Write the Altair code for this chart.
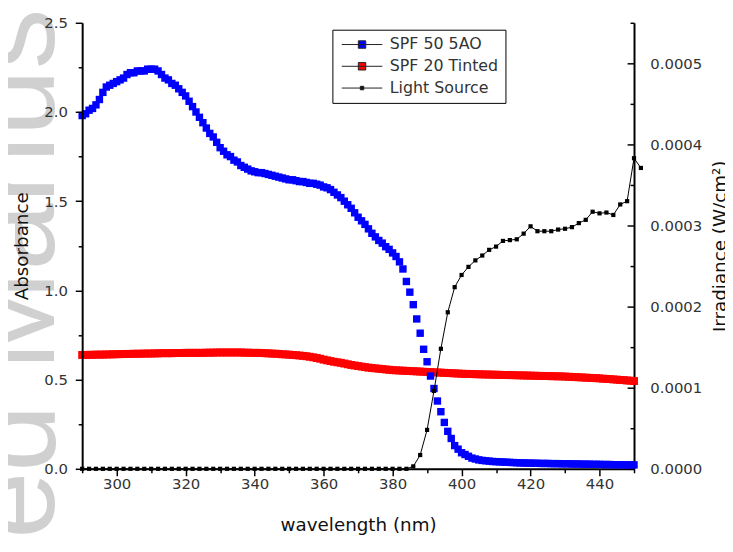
import altair as alt
import pandas as pd

# ---------------- data ----------------
wl_abs = list(range(290, 451))  # 1 nm steps

spf50_5ao = [
    1.98, 1.99, 2.01, 2.02, 2.04, 2.07, 2.11, 2.14, 2.15, 2.16,   # 290-299
    2.17, 2.18, 2.19, 2.21, 2.22, 2.22, 2.23, 2.23, 2.23, 2.24,   # 300-309
    2.24, 2.24, 2.23, 2.21, 2.19, 2.18, 2.16, 2.15, 2.13, 2.11,   # 310-319
    2.09, 2.06, 2.03, 2.00, 1.97, 1.94, 1.91, 1.88, 1.86, 1.83,   # 320-329
    1.80, 1.78, 1.76, 1.75, 1.73, 1.72, 1.70, 1.69, 1.68, 1.67,   # 330-339
    1.665, 1.66, 1.66, 1.655, 1.65, 1.645, 1.64, 1.635, 1.63, 1.625,  # 340-349
    1.62, 1.62, 1.615, 1.61, 1.61, 1.605, 1.60, 1.60, 1.595, 1.59,    # 350-359
    1.58, 1.575, 1.565, 1.55, 1.535, 1.52, 1.50, 1.48, 1.46, 1.435,   # 360-369
    1.41, 1.39, 1.37, 1.345, 1.32, 1.30, 1.28, 1.265, 1.245, 1.23,    # 370-379
    1.21, 1.19, 1.16, 1.12, 1.05, 0.99, 0.92, 0.84, 0.76, 0.67,       # 380-389
    0.60, 0.52, 0.45, 0.38, 0.32, 0.26, 0.21, 0.17, 0.13, 0.11,       # 390-399
    0.09, 0.08, 0.07, 0.06, 0.055, 0.05, 0.047, 0.045, 0.043, 0.041,  # 400-409
    0.040, 0.039, 0.038, 0.037, 0.036, 0.035, 0.034, 0.033, 0.033, 0.032,  # 410-419
    0.032, 0.031, 0.031, 0.030, 0.030, 0.030, 0.029, 0.029, 0.029, 0.028,  # 420-429
    0.028, 0.028, 0.027, 0.027, 0.027, 0.026, 0.026, 0.026, 0.025, 0.025,  # 430-439
    0.025, 0.024, 0.024, 0.024, 0.023, 0.023, 0.023, 0.022, 0.022, 0.022,  # 440-449
    0.022,                                                                   # 450
]

spf20_tinted = [
    0.638, 0.638, 0.639, 0.639, 0.640, 0.640, 0.640, 0.641, 0.641, 0.642,  # 290-299
    0.642, 0.643, 0.643, 0.644, 0.644, 0.645, 0.645, 0.645, 0.646, 0.646,  # 300-309
    0.646, 0.647, 0.647, 0.648, 0.648, 0.648, 0.648, 0.649, 0.649, 0.649,  # 310-319
    0.650, 0.650, 0.650, 0.650, 0.650, 0.650, 0.651, 0.651, 0.651, 0.652,  # 320-329
    0.652, 0.652, 0.652, 0.652, 0.652, 0.652, 0.652, 0.651, 0.651, 0.650,  # 330-339
    0.650, 0.650, 0.649, 0.648, 0.647, 0.646, 0.645, 0.644, 0.642, 0.641,  # 340-349
    0.640, 0.638, 0.637, 0.635, 0.633, 0.631, 0.628, 0.625, 0.621, 0.617,  # 350-359
    0.612, 0.608, 0.604, 0.600, 0.597, 0.594, 0.590, 0.586, 0.582, 0.579,  # 360-369
    0.576, 0.573, 0.570, 0.567, 0.565, 0.563, 0.561, 0.559, 0.557, 0.555,  # 370-379
    0.553, 0.552, 0.551, 0.550, 0.549, 0.548, 0.547, 0.546, 0.545, 0.544,  # 380-389
    0.543, 0.542, 0.541, 0.540, 0.539, 0.538, 0.537, 0.536, 0.535, 0.534,  # 390-399
    0.533, 0.532, 0.532, 0.531, 0.530, 0.530, 0.529, 0.529, 0.528, 0.528,  # 400-409
    0.527, 0.527, 0.526, 0.526, 0.525, 0.525, 0.524, 0.524, 0.523, 0.523,  # 410-419
    0.522, 0.522, 0.521, 0.521, 0.520, 0.520, 0.519, 0.519, 0.518, 0.518,  # 420-429
    0.517, 0.516, 0.515, 0.514, 0.513, 0.512, 0.511, 0.510, 0.509, 0.508,  # 430-439
    0.507, 0.505, 0.504, 0.503, 0.501, 0.500, 0.498, 0.497, 0.495, 0.494,  # 440-449
    0.492,                                                                   # 450
]

wl_src = list(range(290, 453, 2))  # 2 nm steps
light_source = (
    [0.0] * 48 +                                                    # 290-384
    [0.000003, 0.000017, 0.000048, 0.000096, 0.000148, 0.000193,     # 386-396
     0.000224, 0.000239, 0.000249, 0.000257, 0.000263, 0.000270,     # 398-408
     0.000274, 0.000281, 0.000282, 0.000283, 0.000290, 0.000299,     # 410-420
     0.000293, 0.000293, 0.000293, 0.000295, 0.000296, 0.000298,     # 422-432
     0.000303, 0.000307, 0.000317, 0.000315, 0.000316, 0.000313,     # 434-444
     0.000326, 0.000330, 0.000383, 0.000371]                         # 446-452
)

series_names = ["SPF 50 5AO", "SPF 20 Tinted", "Light Source"]
series_colors = ["#0000ff", "#ff0000", "#000000"]
legend_paths = [
    "M-4.1,0H4.1M-0.75,-0.75H0.75V0.75H-0.75Z",
    "M-4.1,0H4.1M-0.75,-0.75H0.75V0.75H-0.75Z",
    "M-4.1,0H4.1M-0.35,-0.35H0.35V0.35H-0.35Z",
]

watermark_words = ["Manuscript", "Accepted"]

x_ticks = list(range(290, 451, 10))
abs_ticks = [i * 0.25 for i in range(11)]
irr_ticks = [round(i * 0.00005, 6) for i in range(12)]

# ---------------- frames ----------------
df50 = pd.DataFrame({"wl": wl_abs, "A": spf50_5ao})
df20 = pd.DataFrame({"wl": wl_abs, "A": spf20_tinted})
dfsrc = pd.DataFrame({"wl": wl_src, "I": light_source})
dfleg = pd.DataFrame({"series": series_names})

FONT = "DejaVu Sans"
W, H = 558, 451

x_enc = alt.X(
    "wl:Q",
    scale=alt.Scale(domain=[290, 450], nice=False, zero=False),
    axis=alt.Axis(
        values=x_ticks,
        labelExpr="datum.value % 20 == 0 ? datum.label : ''",
        tickSize={"condition": {"test": "datum.value % 20 == 0", "value": 7}, "value": 4},
        labelPadding=1,
        title="wavelength (nm)",
        titleY=56,
        titleBaseline="middle",
    ),
)

abs_scale = alt.Scale(domain=[0, 2.5], nice=False)
abs_axis = alt.Axis(
    values=abs_ticks,
    labelExpr="datum.value % 0.5 == 0 ? format(datum.value, '.1f') : ''",
    tickSize={"condition": {"test": "datum.value % 0.5 == 0", "value": 7}, "value": 4},
    labelPadding=8,
    title="Absorbance",
    titleX=-61,
    titleY=H / 2,
    titleBaseline="middle",
    orient="left",
    zindex=1,
)

# faint journal watermark in the left margin (behind everything)
wm_style = dict(angle=270, font="Liberation Sans", fontSize=122, color="#d0d0d0",
                baseline="alphabetic")
wm1 = alt.Chart(pd.DataFrame({"t": [watermark_words[0]]})).mark_text(align="left", **wm_style).encode(
    text="t:N", x=alt.value(-28), y=alt.value(352)
)
wm2 = alt.Chart(pd.DataFrame({"t": [watermark_words[1]]})).mark_text(align="right", **wm_style).encode(
    text="t:N", x=alt.value(-28), y=alt.value(386)
)

red = alt.Chart(df20).mark_square(size=64, color="#ff0000", opacity=1).encode(
    x=x_enc, y=alt.Y("A:Q", scale=abs_scale, axis=abs_axis)
)
blue = alt.Chart(df50).mark_square(size=56, color="#0000ff", opacity=1).encode(
    x=x_enc, y=alt.Y("A:Q", scale=abs_scale, axis=abs_axis)
)
legend_layer = (
    alt.Chart(dfleg)
    .transform_filter("false")
    .mark_point(filled=True, size=100, opacity=1, strokeWidth=1)
    .encode(
        color=alt.Color(
            "series:N",
            scale=alt.Scale(domain=series_names, range=series_colors),
            sort=series_names,
            legend=alt.Legend(
                title=None,
                orient="none",
                legendX=253,
                legendY=7,
                strokeColor="black",
                fillColor="white",
                padding=7,
                symbolSize=100,
                symbolOffset=15,
                symbolStrokeWidth=1,
                symbolOpacity=1,
                labelFont=FONT,
                labelFontSize=16,
                labelColor="#333333",
                labelOffset=20,
                rowPadding=6,
            ),
        ),
        shape=alt.Shape(
            "series:N",
            scale=alt.Scale(domain=series_names, range=legend_paths),
            sort=series_names,
        ),
        stroke=alt.Stroke(
            "series:N",
            scale=alt.Scale(domain=series_names, range=["#222222"] * 3),
            sort=series_names,
        ),
    )
)

left_group = alt.layer(wm1, wm2, red, blue, legend_layer)

irr_scale = alt.Scale(domain=[0, 0.00055], nice=False)
irr_axis_labels = alt.Axis(
    orient="right",
    values=irr_ticks,
    labelExpr="round(datum.value * 100000) % 2 == 0 && datum.value < 0.00054 ? format(datum.value, '.4f') : ''",
    tickSize=0,
    labelPadding=16,
    title="Irradiance (W/cm²)",
    titleAngle=270,
    titleX=87,
    titleY=H / 2,
    titleBaseline="middle",
)
irr_axis_ticks = alt.Axis(
    orient="left",
    offset=-W,
    values=irr_ticks,
    labels=False,
    domain=False,
    title=None,
    tickSize={"condition": {"test": "round(datum.value * 100000) % 2 == 0", "value": 7}, "value": 4},
)

src_line = alt.Chart(dfsrc).mark_line(color="black", strokeWidth=1).encode(
    x=x_enc, y=alt.Y("I:Q", scale=irr_scale, axis=irr_axis_labels)
)
src_pts = alt.Chart(dfsrc).mark_square(size=18, color="black", opacity=1).encode(
    x=x_enc, y=alt.Y("I:Q", scale=irr_scale, axis=irr_axis_ticks)
)
right_group = alt.layer(src_line, src_pts).resolve_axis(y="independent")

chart = (
    alt.layer(left_group, right_group)
    .resolve_scale(y="independent")
    .properties(
        width=W,
        height=H,
        padding={"left": 75, "top": 12, "right": 92, "bottom": 65},
        autosize=alt.AutoSizeParams(type="none"),
        background="white",
    )
    .configure_view(stroke=None)
    .configure_axis(
        grid=False,
        domainColor="black",
        domainWidth=2,
        tickColor="black",
        tickWidth=1.5,
        labelFont=FONT,
        labelFontSize=15,
        labelColor="#333333",
        titleFont=FONT,
        titleFontSize=18.5,
        titleFontWeight="normal",
        titleColor="#111111",
    )
)

chart.save("out.html", embed_options={"renderer": "svg", "actions": False})
